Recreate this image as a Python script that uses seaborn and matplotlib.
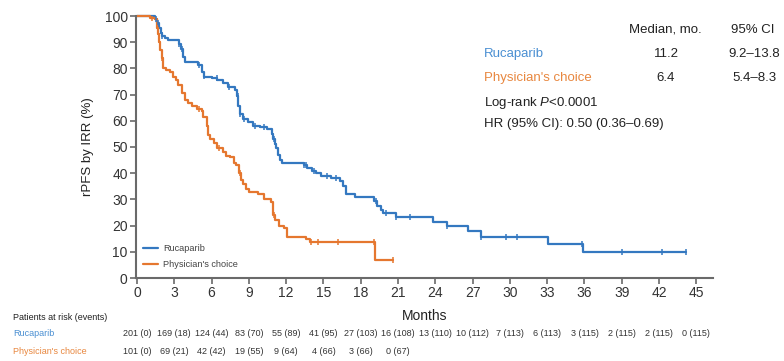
import numpy as np
import pandas as pd
import matplotlib
matplotlib.use("Agg")
import matplotlib.pyplot as plt
import matplotlib.transforms as mtransforms
import seaborn as sns

# Kaplan-Meier step data: time (months) at which survival drops to the given value (%)
ruca_time = [0, 1.45, 1.6, 1.8, 1.9, 2.0, 2.25, 2.52, 3.35, 3.55, 3.7, 3.86, 4.93, 5.2,
             5.4, 6.0, 6.41, 6.95, 7.35, 7.88, 8.02, 8.15, 8.29, 8.55, 8.95, 9.36, 9.9,
             10.43, 10.84, 10.97, 11.1, 11.2, 11.35, 11.5, 11.7, 13.4, 13.7, 14.1, 14.4,
             14.8, 15.6, 16.3, 16.6, 16.8, 17.5, 19.1, 19.3, 19.6, 19.8, 20.8, 23.8, 24.9,
             26.6, 27.7, 33.1, 35.9, 44.2]
ruca_surv = [100, 98.7, 97.5, 95.6, 93.5, 92.5, 91.6, 90.9, 89.4, 87.5, 84.5, 82.5, 81.3,
             78.8, 76.9, 76.3, 75.6, 74.4, 72.9, 71.9, 69.4, 65.6, 62.5, 60.6, 59.4, 58.1,
             57.5, 56.9, 55.0, 53.0, 51.0, 49.5, 47.0, 45.0, 44.0, 43.0, 42.0, 40.8, 40.0,
             39.0, 38.0, 37.0, 35.0, 32.0, 31.0, 29.5, 27.5, 26.0, 24.8, 23.3, 21.4, 19.8,
             18.0, 15.7, 13.0, 10.0, 10.0]
ruca_censor = [1.5, 1.7, 2.0, 3.4, 3.6, 5.0, 5.4, 6.4, 7.4, 8.1, 8.3, 8.6, 9.5, 10.2, 11.0,
               13.4, 13.6, 14.2, 15.3, 16.0, 19.2, 20.0, 20.8, 22.0, 24.9, 27.7, 29.7, 30.6,
               35.8, 39.0, 42.2, 44.2]

pc_time = [0, 1.05, 1.45, 1.58, 1.72, 1.8, 1.85, 1.98, 2.12, 2.33, 2.65, 2.92, 3.15, 3.33,
           3.6, 3.86, 4.13, 4.4, 4.8, 5.2, 5.34, 5.6, 5.74, 5.9, 6.2, 6.41, 6.95, 7.2, 7.5,
           7.8, 8.0, 8.2, 8.35, 8.5, 8.8, 9.0, 9.76, 10.2, 10.8, 10.97, 11.1, 11.4, 11.8,
           12.05, 13.6, 13.9, 19.15, 20.6]
pc_surv = [100, 99.4, 98.7, 95.6, 93.0, 90.0, 86.9, 83.8, 80.0, 79.4, 78.8, 76.9, 75.5, 73.8,
           70.6, 68.0, 66.9, 65.6, 64.4, 63.8, 61.3, 58.0, 54.4, 53.0, 51.5, 49.5, 48.0, 46.5,
           46.0, 44.0, 43.0, 40.0, 37.5, 36.0, 34.0, 33.0, 32.0, 30.0, 29.0, 24.0, 22.0, 20.0,
           19.0, 15.8, 14.8, 13.8, 7.0, 7.0]
pc_censor = [1.2, 2.0, 5.0, 6.6, 8.3, 11.0, 14.0, 14.6, 16.2, 19.1, 20.6]

# Numbers at risk (events) every 3 months
risk_months = list(range(0, 46, 3))
ruca_risk = ["201 (0)", "169 (18)", "124 (44)", "83 (70)", "55 (89)", "41 (95)", "27 (103)",
             "16 (108)", "13 (110)", "10 (112)", "7 (113)", "6 (113)", "3 (115)", "2 (115)",
             "2 (115)", "0 (115)"]
pc_risk = ["101 (0)", "69 (21)", "42 (42)", "19 (55)", "9 (64)", "4 (66)", "3 (66)", "0 (67)"]

groups = ["Rucaparib", "Physician's choice"]
medians = ["11.2", "6.4"]
median_ci = ["9.2\u201313.8", "5.4\u20138.3"]
logrank_text = r"Log-rank $\mathit{P}$<0.0001"
hr_text = "HR (95% CI): 0.50 (0.36\u20130.69)"

BLUE = "#3478c0"
ORANGE = "#e5772f"
BLUE_TXT = "#4a8fd2"
ORANGE_TXT = "#e8873f"

sns.set_theme(style="ticks")
plt.rcParams["font.family"] = ["Liberation Sans", "DejaVu Sans"]
plt.rcParams["mathtext.fontset"] = "custom"
plt.rcParams["mathtext.rm"] = "Liberation Sans"
plt.rcParams["mathtext.it"] = "Liberation Sans:italic"

W, H = 784, 361
fig = plt.figure(figsize=(W / 100, H / 100), dpi=100)
ax = fig.add_axes([136 / W, 83 / H, (713 - 136) / W, 262 / H])


def surv_at(times, surv, t):
    idx = np.searchsorted(times, t, side="right") - 1
    return np.asarray(surv)[idx]


curves = pd.concat([
    pd.DataFrame({"month": ruca_time, "surv": ruca_surv, "arm": groups[0]}),
    pd.DataFrame({"month": pc_time, "surv": pc_surv, "arm": groups[1]}),
])
censors = pd.concat([
    pd.DataFrame({"month": ruca_censor, "surv": surv_at(ruca_time, ruca_surv, ruca_censor),
                  "arm": groups[0]}),
    pd.DataFrame({"month": pc_censor, "surv": surv_at(pc_time, pc_surv, pc_censor),
                  "arm": groups[1]}),
])
palette = {groups[0]: BLUE, groups[1]: ORANGE}

sns.lineplot(data=curves, x="month", y="surv", hue="arm", palette=palette,
             drawstyle="steps-post", estimator=None, sort=False, lw=1.6, ax=ax)
sns.scatterplot(data=censors, x="month", y="surv", hue="arm", palette=palette,
                marker="|", s=18, linewidth=1.1, legend=False, ax=ax, zorder=3)
for ln in ax.lines:
    ln.set_clip_on(False)

ax.set_xlim(-0.08, 46.34)
ax.set_ylim(0, 100)
ax.set_xticks(risk_months)
ax.set_yticks(range(0, 101, 10))
sns.despine(ax=ax)
for side in ("left", "bottom"):
    ax.spines[side].set_color("#6a6a6a")
    ax.spines[side].set_linewidth(1.5)
ax.tick_params(direction="out", length=4, width=1.2, color="#6a6a6a",
               labelsize=10, labelcolor="#333333", pad=2)

ax.set_xlabel("Months", fontsize=10, color="#222222")
ax.xaxis.set_label_coords(0.5, -0.118)
ax.set_ylabel("rPFS by IRR (%)", fontsize=9.5, color="#222222")
ax.yaxis.set_label_coords(-0.072, 0.5)

leg = ax.legend(loc="lower left", bbox_to_anchor=(0.012, 0.035), frameon=False,
                fontsize=6.6, handlelength=1.6, handletextpad=0.6, labelspacing=0.75,
                borderpad=0, borderaxespad=0, title=None)
for t in leg.get_texts():
    t.set_color("#444444")

# Summary table on the right
def fx(px):
    return px / W


def fy(py):
    return 1 - py / H


fs = 9.5
fig.text(fx(665), fy(30), "Median, mo.", ha="center", va="center", fontsize=fs, color="#222222")
fig.text(fx(753), fy(30), "95% CI", ha="center", va="center", fontsize=fs, color="#222222")
for i, (g, c) in enumerate(zip(groups, [BLUE_TXT, ORANGE_TXT])):
    yy = fy(54 + 24 * i)
    fig.text(fx(484), yy, g, ha="left", va="center", fontsize=fs, color=c)
    fig.text(fx(666), yy, medians[i], ha="center", va="center", fontsize=fs, color="#222222")
    fig.text(fx(754), yy, median_ci[i], ha="center", va="center", fontsize=fs, color="#222222")
fig.text(fx(484), fy(103), logrank_text, ha="left", va="center", fontsize=fs, color="#222222")
fig.text(fx(484), fy(124), hr_text, ha="left", va="center", fontsize=fs, color="#222222")

# Numbers at risk table
trans = mtransforms.blended_transform_factory(ax.transData, fig.transFigure)
rfs = 6.5
fig.text(fx(13), fy(317), "Patients at risk (events)", ha="left", va="center",
         fontsize=rfs, color="#222222")
fig.text(fx(13), fy(334), groups[0], ha="left", va="center", fontsize=rfs, color=BLUE_TXT)
fig.text(fx(13), fy(351), groups[1], ha="left", va="center", fontsize=rfs, color=ORANGE_TXT)
for m, lab in zip(risk_months, ruca_risk):
    ax.text(m, fy(334), lab, transform=trans, ha="center", va="center", fontsize=rfs,
            color="#333333", clip_on=False)
for m, lab in zip(risk_months, pc_risk):
    ax.text(m, fy(351), lab, transform=trans, ha="center", va="center", fontsize=rfs,
            color="#333333", clip_on=False)

fig.savefig("out.png", dpi=100)
